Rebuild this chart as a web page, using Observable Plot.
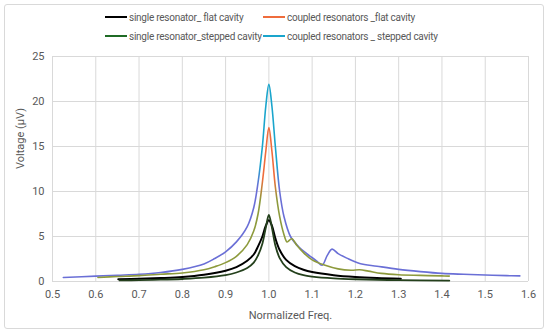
<!DOCTYPE html>
<html>
<head>
<meta charset="utf-8">
<script src="https://cdn.jsdelivr.net/npm/d3@7"></script>
<script src="https://cdn.jsdelivr.net/npm/@observablehq/plot@0.6"></script>
<style>
  html, body { margin: 0; padding: 0; background: #fff; }
  #wrap { position: relative; width: 550px; height: 335px; overflow: hidden; font-family: Roboto, "Noto Sans", sans-serif; }
  #frame { position: absolute; left: 4px; top: 4px; width: 540px; height: 325px; border: 1px solid #d9d9d9; border-radius: 3px; box-sizing: border-box; }
  #legend { position: absolute; left: 0; top: 0; width: 550px; height: 45px; }
  .item { position: absolute; display: flex; align-items: center; font-size: 10px; letter-spacing: -0.25px; color: #595959; white-space: nowrap; }
  .sw { width: 22px; height: 2px; margin-right: 2px; }
  #chart { position: absolute; left: 0; top: 45px; }
</style>
</head>
<body>
<div id="wrap">
  <div id="frame"></div>
  <div id="legend"></div>
  <div id="chart"></div>
</div>
<script>
// Series names and legend colours
const seriesNames = [
  "single resonator_ flat cavity",
  "coupled resonators _flat cavity",
  "single resonator_stepped cavity",
  "coupled resonators _ stepped cavity"
];
const seriesColors = ["#000000", "#ef6c3c", "#1f6b25", "#1aa5cc"];

// single resonator_ flat cavity
const freqSF = [0.652,0.7,0.75,0.8,0.85,0.9,0.925,0.95,0.965,0.975,0.985,0.993,1.0,1.007,1.015,1.025,1.04,1.06,1.08,1.1,1.15,1.2,1.25,1.305];
const voltSF = [0.25,0.3,0.38,0.5,0.75,1.2,1.6,2.3,3.0,3.9,5.0,6.2,6.8,6.2,4.8,3.5,2.4,1.7,1.3,1.05,0.7,0.5,0.38,0.3];

// single resonator_stepped cavity
const freqSS = [0.655,0.7,0.75,0.8,0.85,0.9,0.925,0.95,0.965,0.975,0.985,0.993,1.0,1.007,1.015,1.025,1.04,1.06,1.08,1.1,1.15,1.2,1.3,1.417];
const voltSS = [0.12,0.15,0.2,0.28,0.42,0.7,1.0,1.5,2.1,2.9,4.2,6.0,7.4,6.0,4.0,2.6,1.6,1.0,0.7,0.55,0.35,0.25,0.15,0.1];

// coupled resonators _flat cavity
const freqCF = [0.605,0.65,0.7,0.75,0.8,0.85,0.875,0.9,0.925,0.95,0.965,0.975,0.985,0.993,1.0,1.007,1.015,1.025,1.035,1.042,1.053,1.065,1.08,1.1,1.13,1.16,1.19,1.21,1.23,1.26,1.3,1.35,1.4,1.417];
const voltCF = [0.45,0.55,0.65,0.8,0.95,1.3,1.65,2.1,2.8,4.1,5.6,7.5,11.0,14.5,17.1,14.5,10.5,7.2,5.2,4.4,4.75,4.0,3.2,2.4,1.8,1.4,1.25,1.3,1.15,0.9,0.75,0.68,0.62,0.6];

// coupled resonators _ stepped cavity
const freqCS = [0.525,0.6,0.65,0.7,0.75,0.8,0.85,0.875,0.9,0.925,0.95,0.965,0.975,0.985,0.993,1.0,1.007,1.015,1.025,1.035,1.05,1.07,1.09,1.11,1.123,1.135,1.146,1.16,1.18,1.21,1.25,1.3,1.35,1.4,1.45,1.5,1.55,1.58];
const voltCS = [0.45,0.6,0.7,0.8,1.0,1.35,1.95,2.55,3.3,4.4,6.1,8.2,11.0,15.0,19.5,21.9,19.5,15.0,10.0,7.2,5.0,3.8,3.0,2.3,1.8,2.9,3.6,3.1,2.6,2.0,1.7,1.35,1.1,0.9,0.8,0.72,0.65,0.62];

// Axis ticks
const xTicks = [0.5,0.6,0.7,0.8,0.9,1,1.1,1.2,1.3,1.4,1.5,1.6];
const yTicks = [0,5,10,15,20,25];
const xLabel = "Normalized Freq.";
const yLabel = "Voltage (\u03bcV)";

const mk = (f, v) => f.map((x, i) => ({x, y: v[i]}));
const dSF = mk(freqSF, voltSF), dSS = mk(freqSS, voltSS), dCF = mk(freqCF, voltCF), dCS = mk(freqCS, voltCS);

// Legend
const legend = document.getElementById("legend");
const pos = [[105, 17], [263, 17], [105, 36], [263, 36]];
seriesNames.forEach((n, i) => {
  const d = document.createElement("div");
  d.className = "item";
  d.style.left = pos[i][0] + "px";
  d.style.top = (pos[i][1] - 8) + "px";
  d.style.height = "16px";
  d.innerHTML = `<span class="sw" style="background:${seriesColors[i]}"></span><span>${n}</span>`;
  legend.appendChild(d);
});

const chart = Plot.plot({
  width: 550,
  height: 290,
  marginTop: 11,
  marginBottom: 54,
  marginLeft: 52,
  marginRight: 22,
  style: {fontFamily: "Roboto, 'Noto Sans', sans-serif", fontSize: "11px", color: "#595959", background: "transparent"},
  x: {domain: [0.5, 1.6], ticks: xTicks, tickFormat: d => String(d)},
  y: {domain: [0, 25], ticks: yTicks},
  marks: [
    Plot.gridX(xTicks, {stroke: "#d9d9d9", strokeOpacity: 1}),
    Plot.gridY(yTicks, {stroke: "#d9d9d9", strokeOpacity: 1}),
    Plot.axisX(xTicks, {tickSize: 0, tickPadding: 9, label: null, fill: "#595959"}),
    Plot.axisY(yTicks, {tickSize: 0, tickPadding: 8, label: null, fill: "#595959"}),
    Plot.text([xLabel], {frameAnchor: "bottom", dy: 37, text: d => d, fill: "#595959", fontSize: 11}),
    Plot.text([yLabel], {frameAnchor: "left", dx: -32, rotate: -90, text: d => d, fill: "#595959", fontSize: 11}),
    Plot.line(dCS, {x: "x", y: "y", stroke: "url(#gradCS)", strokeWidth: 1.6, curve: "catmull-rom"}),
    Plot.line(dCF, {x: "x", y: "y", stroke: "url(#gradCF)", strokeWidth: 1.6, curve: "catmull-rom"}),
    Plot.line(dSF, {x: "x", y: "y", stroke: seriesColors[0], strokeWidth: 2, curve: "catmull-rom"}),
    Plot.line(dSS, {x: "x", y: "y", stroke: "#24401c", strokeWidth: 1.8, curve: "catmull-rom"})
  ]
});

// Gradients: lines look purple/olive in the tails and cyan/orange near the peak
const ys = chart.scale("y");
const yPix = v => ys.range[0] + (v - ys.domain[0]) / (ys.domain[1] - ys.domain[0]) * (ys.range[1] - ys.range[0]);
const defs = d3.select(chart).insert("defs", ":first-child");
function grad(id, low, high, vFrom, vTo) {
  const g = defs.append("linearGradient").attr("id", id).attr("gradientUnits", "userSpaceOnUse")
    .attr("x1", 0).attr("x2", 0).attr("y1", yPix(0)).attr("y2", yPix(25));
  g.append("stop").attr("offset", vFrom / 25).attr("stop-color", low);
  g.append("stop").attr("offset", vTo / 25).attr("stop-color", high);
}
grad("gradCS", "#6a6fd6", seriesColors[3], 10.5, 13);
grad("gradCF", "#8d9a3c", seriesColors[1], 9, 11.5);

document.getElementById("chart").appendChild(chart);
</script>
</body>
</html>
